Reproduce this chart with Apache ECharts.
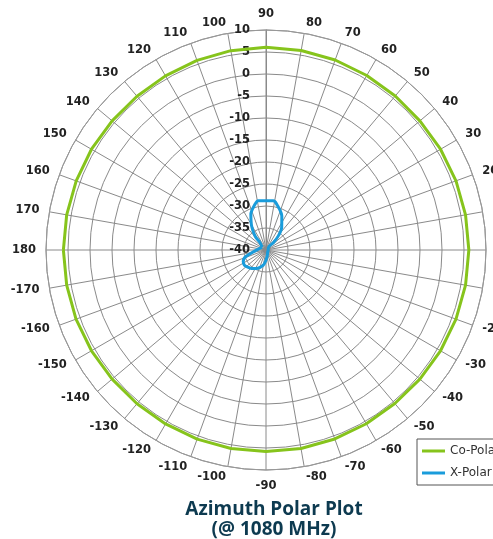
<!DOCTYPE html>
<html>
<head>
<meta charset="utf-8">
<script src="https://cdn.jsdelivr.net/npm/echarts@6/dist/echarts.min.js"></script>
<style>
html,body{margin:0;padding:0;background:#fff;}
#chart{width:493px;height:539px;}
</style>
</head>
<body>
<div id="chart"></div>
<script>
// Radial scale (dB)
var radiusMin = -40;
var radiusMax = 10;
var radiusStep = 5;
// Angle scale (deg)
var angleStep = 10;

// Co-Polar: azimuth (deg) and level (dB)
var coPolarAngles = [-180,-170,-160,-150,-140,-130,-120,-110,-100,-90,-80,-70,-60,-50,-40,-30,-20,-10,0,10,20,30,40,50,60,70,80,90,100,110,120,130,140,150,160,170,180];
var coPolarValues = [6.05,6.0,5.95,5.8,5.65,5.6,5.65,5.75,5.8,5.8,5.8,5.7,5.6,5.55,5.65,5.8,5.95,6.05,6.1,6.05,5.95,5.8,5.65,5.7,5.8,5.95,6.05,6.1,6.0,5.85,5.7,5.6,5.65,5.8,5.9,6.0,6.05];

// X-Polar: azimuth (deg) and level (dB), in trace order
var xPolarAngles = [143,-162,-153,-145,-139,-128,-117,-100,-90,-75,-50,-20,10,40,50,45,48.7,55,65,76.8,81.6,90,98.9,103.5,113,121,128,129,143];
var xPolarValues = [-38.9,-35.2,-34.2,-34.0,-34.2,-34.7,-35.3,-36.5,-37.7,-38.8,-39.4,-39.5,-39.5,-39.3,-38.8,-37.65,-35.8,-33.8,-31.5,-29.3,-28.7,-28.8,-28.65,-29.3,-31.2,-33.65,-35.95,-37.8,-38.9];

function toAxisAngle(a){ return a < 90 ? a + 360 : a; }
function pairs(angles, values){
  return angles.map(function(a,i){ return [values[i], toAxisAngle(a)]; });
}
function angleText(v){
  var a = ((v % 360) + 360) % 360;
  if (a > 180) a -= 360;
  return String(a);
}

var R = 220, M = 10;
var FONT_SIZE = 11.5, FONT_FAMILY = 'DejaVu Sans';
var ctx = document.createElement('canvas').getContext('2d');
ctx.font = 'bold ' + FONT_SIZE + 'px "' + FONT_FAMILY + '"';

// Label styles: Excel-like placement (side-aligned, vertically centred)
var rich = {};
for (var v = 90; v < 450; v += angleStep) {
  var txt = angleText(v);
  var c = Math.cos(v * Math.PI / 180), s = Math.sin(v * Math.PI / 180);
  var st = {fontFamily:FONT_FAMILY, fontWeight:'bold', fontSize:FONT_SIZE, color:'#222'};
  if (Math.abs(s) < 0.999) st.lineHeight = 1;
  var defCenter = Math.abs(c) * (R + M) / R < 0.3;
  if (defCenter && Math.abs(c) > 1e-6) {
    var w = ctx.measureText(txt).width;
    st.padding = c < 0 ? [0, w, 0, 0] : [0, 0, 0, w];
  }
  rich['t' + v] = st;
}

var chart = echarts.init(document.getElementById('chart'), null, {renderer:'canvas'});
chart.setOption({
  backgroundColor:'#fff',
  animation:false,
  title:{
    text:'Azimuth Polar Plot\n(@ 1080 MHz)',
    left:269, top:495, textAlign:'center',
    textStyle:{fontFamily:'Open Sans', fontWeight:'bold', fontSize:19, lineHeight:20, color:'#0d3a50'}
  },
  legend:{
    orient:'vertical', left:417, top:439,
    data:['Co-Polar','X-Polar'],
    icon:'rect', itemWidth:23, itemHeight:3, itemGap:10,
    padding:[6,8,6,5],
    borderColor:'#555', borderWidth:1,
    textStyle:{fontFamily:'DejaVu Sans', fontSize:12, color:'#333'}
  },
  polar:{center:[266,250], radius:R},
  angleAxis:{
    type:'value', min:90, max:450, interval:angleStep, startAngle:90, clockwise:false,
    axisLine:{show:true, lineStyle:{color:'#999', width:1}},
    axisTick:{show:false},
    splitLine:{show:true, lineStyle:{color:'#8a8a8a', width:1}},
    axisLabel:{
      margin:M, fontFamily:FONT_FAMILY, fontWeight:'bold', fontSize:FONT_SIZE, color:'#222',
      rich:rich,
      formatter:function(v){
        if (v >= 450) return '';
        return '{t' + Math.round(v) + '|' + angleText(v) + '}';
      }
    }
  },
  radiusAxis:{
    type:'value', min:radiusMin, max:radiusMax, interval:radiusStep,
    axisLine:{show:true, lineStyle:{color:'#8a8a8a', width:1}},
    axisTick:{show:false},
    splitLine:{show:true, lineStyle:{color:'#8a8a8a', width:1}},
    axisLabel:{margin:16, fontFamily:FONT_FAMILY, fontWeight:'bold', fontSize:FONT_SIZE, color:'#222'}
  },
  series:[
    {name:'Co-Polar', type:'line', coordinateSystem:'polar', showSymbol:false, symbol:'none',
     lineStyle:{color:'#86c41c', width:3}, itemStyle:{color:'#86c41c'},
     data:pairs(coPolarAngles, coPolarValues)},
    {name:'X-Polar', type:'line', coordinateSystem:'polar', showSymbol:false, symbol:'none',
     smooth:0.3,
     lineStyle:{color:'#1a9cdb', width:3}, itemStyle:{color:'#1a9cdb'},
     data:pairs(xPolarAngles, xPolarValues)}
  ]
});
</script>
</body>
</html>
